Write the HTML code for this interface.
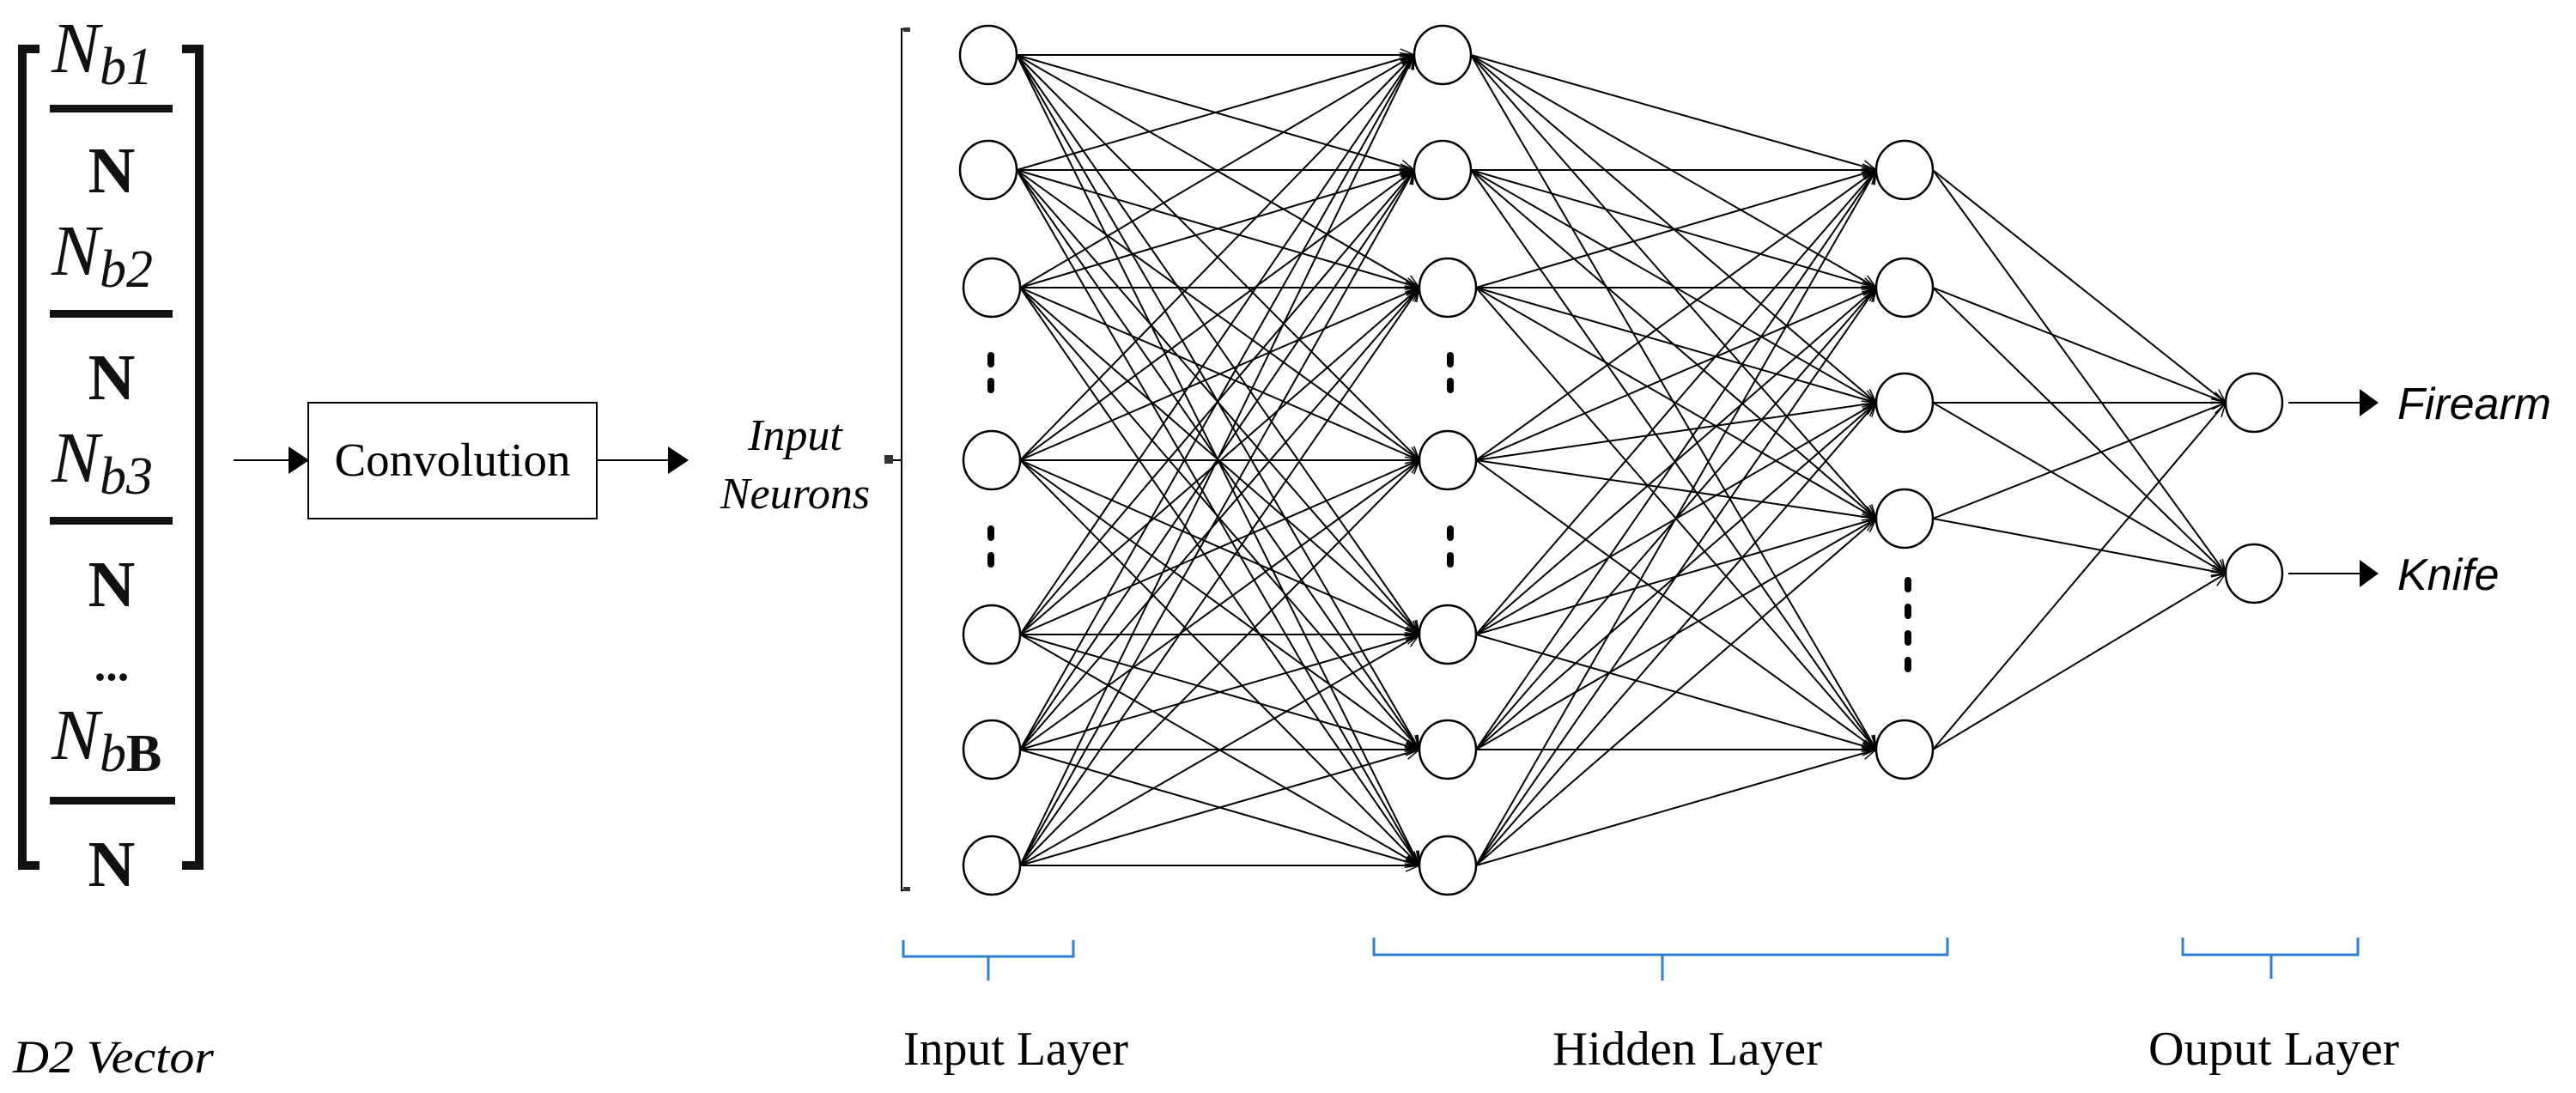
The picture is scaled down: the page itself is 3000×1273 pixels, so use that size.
<!DOCTYPE html>
<html><head><meta charset="utf-8"><style>
html,body{margin:0;padding:0;background:#fff;}
svg{display:block;}
</style></head><body>
<svg id="s" xmlns="http://www.w3.org/2000/svg" width="3000" height="1273" viewBox="0 0 3000 1273">
<defs>
<marker id="a" markerWidth="20" markerHeight="20" refX="18" refY="10" orient="auto" markerUnits="userSpaceOnUse">
<path d="M2,3 L18,10 L2,17" fill="none" stroke="#000" stroke-width="1.5"/>
</marker>
</defs>
<g id="lines" stroke="#000" stroke-width="2" fill="none"></g>
<g id="nodes" stroke="#000" stroke-width="2.5" fill="#fff"></g>

<!-- left vector bracket -->
<path d="M46,57 H26 V1008 H46" fill="none" stroke="#111" stroke-width="10"/>
<path d="M212,57 H232 V1008 H212" fill="none" stroke="#111" stroke-width="10"/>
<g font-family="Liberation Serif, serif" fill="#111">
<g font-style="italic" font-size="84">
<text x="60" y="84">N<tspan font-size="62" dy="14">b1</tspan></text>
<text x="60" y="320">N<tspan font-size="62" dy="14">b2</tspan></text>
<text x="60" y="561">N<tspan font-size="62" dy="14">b3</tspan></text>
<text x="60" y="884">N<tspan font-size="62" dy="14">b<tspan font-style="normal" font-weight="bold">B</tspan></tspan></text>
</g>
<rect x="58" y="122" width="143" height="9"/>
<rect x="58" y="361" width="143" height="9"/>
<rect x="58" y="602" width="143" height="9"/>
<rect x="58" y="928" width="146" height="9"/>
<g font-weight="bold" font-size="76" text-anchor="middle">
<text x="130" y="224">N</text>
<text x="130" y="465">N</text>
<text x="130" y="706">N</text>
<text x="130" y="1032">N</text>
<text x="130" y="792" font-size="54">...</text>
</g>
</g>

<!-- convolution -->
<line x1="272" y1="536" x2="340" y2="536" stroke="#000" stroke-width="2"/>
<polygon points="336,520 360,536 336,552" fill="#000"/>
<rect x="359" y="469" width="336" height="135" fill="none" stroke="#000" stroke-width="2"/>
<text x="527" y="554" font-family="Liberation Serif, serif" font-size="55" text-anchor="middle">Convolution</text>
<line x1="695" y1="536" x2="780" y2="536" stroke="#000" stroke-width="2"/>
<polygon points="778,520 802,536 778,552" fill="#000"/>
<g font-family="Liberation Serif, serif" font-style="italic" font-size="52" text-anchor="middle">
<text x="926" y="524">Input</text>
<text x="926" y="592">Neurons</text>
</g>
<path d="M1060,34 H1050 V1037 H1060 M1050,536 H1032" fill="none" stroke="#000" stroke-width="2"/>
<rect x="1052" y="32" width="8" height="5" fill="#333"/>
<rect x="1052" y="1033" width="8" height="5" fill="#333"/>
<rect x="1030" y="530" width="10" height="10" fill="#333"/>

<!-- dots -->
<g fill="#000">
<rect x="1150" y="410" width="8" height="18" rx="4"/><rect x="1150" y="440" width="8" height="18" rx="4"/>
<rect x="1150" y="612" width="8" height="18" rx="4"/><rect x="1150" y="643" width="8" height="18" rx="4"/>
<rect x="1685" y="410" width="8" height="18" rx="4"/><rect x="1685" y="440" width="8" height="18" rx="4"/>
<rect x="1685" y="612" width="8" height="18" rx="4"/><rect x="1685" y="643" width="8" height="18" rx="4"/>
<rect x="2218" y="672" width="8" height="18" rx="4"/><rect x="2218" y="703" width="8" height="18" rx="4"/>
<rect x="2218" y="734" width="8" height="18" rx="4"/><rect x="2218" y="765" width="8" height="18" rx="4"/>
</g>

<!-- outputs -->
<line x1="2665" y1="469" x2="2752" y2="469" stroke="#000" stroke-width="2"/>
<polygon points="2748,453 2770,469 2748,485" fill="#000"/>
<line x1="2665" y1="668" x2="2752" y2="668" stroke="#000" stroke-width="2"/>
<polygon points="2748,652 2770,668 2748,684" fill="#000"/>
<g font-family="Liberation Sans, sans-serif" font-style="italic" font-size="52">
<text x="2792" y="488">Firearm</text>
<text x="2792" y="687">Knife</text>
</g>

<!-- braces -->
<g stroke="#2f7fd0" stroke-width="3" fill="none">
<path d="M1052,1095 V1114 H1250 V1095 M1151,1114 V1142"/>
<path d="M1600,1092 V1112 H2268 V1092 M1936,1112 V1142"/>
<path d="M2542,1092 V1112 H2746 V1092 M2645,1112 V1140"/>
</g>
<g font-family="Liberation Serif, serif" font-size="56">
<text x="1052" y="1240" textLength="262" lengthAdjust="spacingAndGlyphs">Input Layer</text>
<text x="1808" y="1240" textLength="314" lengthAdjust="spacingAndGlyphs">Hidden Layer</text>
<text x="2502" y="1240" textLength="292" lengthAdjust="spacingAndGlyphs">Ouput Layer</text>
</g>
<text x="15" y="1249" font-family="Liberation Serif, serif" font-style="italic" font-size="54" textLength="234" lengthAdjust="spacingAndGlyphs">D2 Vector</text>

<script>
var R=33;
var L0=[1151,1151,1155,1155,1155,1155,1155].map(function(x,i){return [x,[64,198,335,536,739,873,1008][i]];});
var L1=[1680,1680,1686,1686,1686,1686,1686].map(function(x,i){return [x,[64,198,335,536,739,873,1008][i]];});
var L2=[198,335,469,604,873].map(function(y){return [2218,y];});
var L3=[469,668].map(function(y){return [2625,y];});
var ns="http://www.w3.org/2000/svg";
var lg=document.getElementById('lines'),ng=document.getElementById('nodes');
function conn(A,B){A.forEach(function(a){B.forEach(function(b){
var l=document.createElementNS(ns,'line');
l.setAttribute('x1',a[0]+R);l.setAttribute('y1',a[1]);
l.setAttribute('x2',b[0]-R);l.setAttribute('y2',b[1]);
l.setAttribute('marker-end','url(#a)');lg.appendChild(l);});});}
conn(L0,L1);conn(L1,L2);conn(L2,L3);
[L0,L1,L2,L3].forEach(function(L){L.forEach(function(p){
var c=document.createElementNS(ns,'ellipse');
c.setAttribute('cx',p[0]);c.setAttribute('cy',p[1]);c.setAttribute('rx',R);c.setAttribute('ry',R+1);ng.appendChild(c);});});
</script>
</svg>
</body></html>
